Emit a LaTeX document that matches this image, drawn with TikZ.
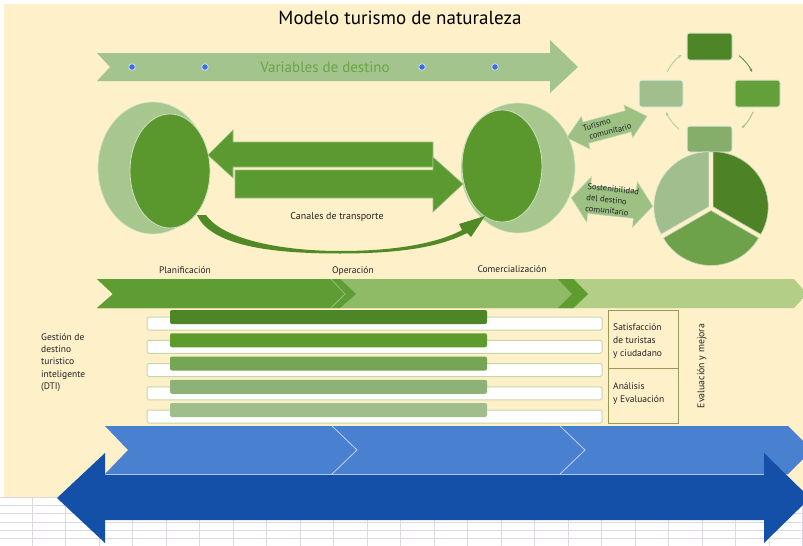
\documentclass[tikz,border=0pt]{standalone}
\usepackage{fontspec}
\setmainfont{PT Sans}
\usetikzlibrary{arrows.meta,shapes.geometric}
\definecolor{cream}{HTML}{FEF0C9}
\definecolor{gridc}{HTML}{DCD8DE}
\definecolor{varg}{HTML}{A3C58D}
\definecolor{vtextc}{HTML}{6AA447}
\definecolor{dotblue}{HTML}{3B6FE0}
\definecolor{discl}{HTML}{A7C78E}
\definecolor{discd}{HTML}{5A982D}
\definecolor{arrg}{HTML}{5B9A30}
\definecolor{curvg}{HTML}{4F8A26}
\definecolor{dblg}{HTML}{9DC183}
\definecolor{cyc1}{HTML}{4E8526}
\definecolor{cyc2}{HTML}{64A03A}
\definecolor{cyc3}{HTML}{84AE6A}
\definecolor{cyc4}{HTML}{A0BF8D}
\definecolor{pie1}{HTML}{4E8227}
\definecolor{pie2}{HTML}{6EA24A}
\definecolor{pie3}{HTML}{A1BE8E}
\definecolor{ph1}{HTML}{5E9C34}
\definecolor{ph2}{HTML}{8FBA66}
\definecolor{ph3}{HTML}{B3CE86}
\definecolor{chev}{HTML}{5E9C2E}
\definecolor{bar1}{HTML}{4E8526}
\definecolor{bar2}{HTML}{5E9B2E}
\definecolor{bar3}{HTML}{76A554}
\definecolor{bar4}{HTML}{8DB278}
\definecolor{bar5}{HTML}{A0BD8C}
\definecolor{barout}{HTML}{C5D6A8}
\definecolor{boxc}{HTML}{9A9A58}
\definecolor{blueA}{HTML}{4A80D0}
\definecolor{blueB}{HTML}{1450A8}
\definecolor{txt}{HTML}{222222}
\tikzset{
  lbl/.style={inner sep=0pt, text=txt, font=\fontsize{9.5}{12.3}\selectfont},
  smalllbl/.style={inner sep=0pt, text=txt, font=\fontsize{8.5}{11}\selectfont, align=left},
  cycbox/.style={rectangle, rounded corners=2.5pt, minimum width=45pt, minimum height=27pt, inner sep=0pt, draw=white!75!#1, line width=1pt, fill=#1},
  cycarrow/.style={draw=#1, line width=0.9pt, -{Stealth[length=3.5pt,width=3pt]}},
}
\begin{document}
\begin{tikzpicture}[x=1pt,y=-1pt]
\useasboundingbox (0,0) rectangle (803,546);
\clip (0,0) rectangle (803,546);
\fill[white] (0,0) rectangle (803,546);
\fill[cream] (4,4) rectangle (803,497);
% spreadsheet grid at bottom
\begin{scope}
\clip (0,497) rectangle (803,546);
\foreach \y in {497,505,513,522,530,538} \draw[gridc, line width=0.8pt] (0,\y) -- (803,\y);
\foreach \k in {0,...,23} \draw[gridc, line width=0.8pt] ({32+33.5*\k},497) -- ({32+33.5*\k},546);
\end{scope}

% title
\node[inner sep=0pt, font=\fontsize{19}{22}\selectfont] (title) at (400,18) {Modelo turismo de naturaleza};

% variables arrow
\fill[varg] (97,53) -- (550,53) -- (550,40) -- (578,67) -- (550,93) -- (550,81) -- (97,81) -- (110,67) -- cycle;
\node[inner sep=0pt, text=vtextc, font=\fontsize{15}{17}\selectfont] (vars) at (325,67) {Variables de destino};
\foreach \x in {132,205,422,495} \fill[dotblue, draw=white!75!dotblue, line width=0.8pt] (\x,67) circle [radius=3.3];

% discs
\node[ellipse, fill=discl, draw=white!50!discl, line width=0.6pt, minimum width=110pt, minimum height=132pt, inner sep=0pt] (lout) at (153,168) {};
\node[ellipse, fill=discd, draw=white!70!discd, line width=0.8pt, minimum width=80pt, minimum height=114pt, inner sep=0pt] (lin) at (170,171) {};
\node[ellipse, fill=discl, draw=white!50!discl, line width=0.6pt, minimum width=114pt, minimum height=130pt, inner sep=0pt] (rout) at (518,168) {};
\node[ellipse, fill=discd, draw=white!70!discd, line width=0.8pt, minimum width=80pt, minimum height=112pt, inner sep=0pt] (rin) at (502,166) {};

% block arrows between discs
\fill[arrg, draw=white!40!arrg, line width=0.6pt] (208,155) -- (233,130) -- (233,142) -- (433,142) -- (433,167) -- (233,167) -- (233,178) -- cycle;
\fill[arrg, draw=white!40!arrg, line width=0.6pt] (463,184) -- (433,157) -- (433,170) -- (235,170) -- (235,198) -- (433,198) -- (433,212) -- cycle;
\node[lbl, font=\fontsize{10}{12}\selectfont] (canales) at (337,217) {Canales de transporte};

% curved arrow under
\fill[curvg] (197,215) -- (206,215) .. controls (225,242) and (290,251) .. (340,251)
  .. controls (400,251) and (440,242) .. (462,230) -- (459,224) -- (485,216) -- (471,237) -- (467,233)
  .. controls (440,247) and (400,253.5) .. (340,253.5) .. controls (280,253.5) and (212,248) .. cycle;

% double arrows right
\begin{scope}[shift={(607,127)}, rotate=15]
\fill[dblg, draw=white!40!dblg, line width=0.5pt] (-41.5,0) -- (-22,-17) -- (-22,-11) -- (22,-11) -- (22,-17) -- (41.5,0) -- (22,17) -- (22,11) -- (-22,11) -- (-22,17) -- cycle;
\node[smalllbl, transform shape, font=\fontsize{8.5}{10}\selectfont] (turismo) at (0,0) {Turismo\\\hspace*{4pt}comunitario};
\end{scope}
\begin{scope}[shift={(612,202)}, rotate=-6]
\fill[dblg, draw=white!40!dblg, line width=0.5pt] (-41,0) -- (-23,-23) -- (-23,-14) -- (23,-14) -- (23,-23) -- (41,0) -- (23,23) -- (23,14) -- (-23,14) -- (-23,23) -- cycle;
\node[smalllbl, transform shape] (sost) at (0,-2) {Sostenibilidad\\del destino\\comunitario};
\end{scope}

% cycle
\node[cycbox=cyc1] (ctop) at (709.5,46.5) {};
\node[cycbox=cyc2] (cright) at (757.5,93.5) {};
\node[cycbox=cyc3, minimum height=26pt] (cbot) at (709.5,139) {};
\node[cycbox=cyc4, minimum width=44pt] (cleft) at (661,93.5) {};
\begin{scope}[shift={(709,93)}, yscale=-1]
\draw[cycarrow=cyc4!80] (153:47) arc[start angle=153, end angle=126, radius=47];
\draw[cycarrow=cyc1!90] (51:48) arc[start angle=51, end angle=26, radius=48];
\draw[cycarrow=cyc3!80] (-23:48) arc[start angle=-23, end angle=-47, radius=48];
\draw[cycarrow=cyc4!80] (-130:47) arc[start angle=-130, end angle=-156, radius=47];
\end{scope}

% pie
\begin{scope}[shift={(711,208)}, yscale=-1]
\fill[pie1, draw=white!60!pie1, line width=0.6pt, shift={(30:2.5)}] (0,0) -- (-30:55) arc[start angle=-30, end angle=90, radius=55] -- cycle;
\fill[pie2, draw=white!60!pie2, line width=0.6pt, shift={(270:2.5)}] (0,0) -- (210:55) arc[start angle=210, end angle=330, radius=55] -- cycle;
\fill[pie3, draw=white!60!pie3, line width=0.6pt, shift={(150:2.5)}] (0,0) -- (90:55) arc[start angle=90, end angle=210, radius=55] -- cycle;
\end{scope}

% phase labels
\node[lbl] (plan) at (185,270) {Planificación};
\node[lbl] (oper) at (353,271) {Operación};
\node[lbl] (comer) at (512,269) {Comercialización};

% phase band
\fill[ph3] (97,279) -- (794,279) -- (807,294) -- (794,308) -- (97,308) -- (113,294) -- cycle;
\fill[ph2] (97,279) -- (574,279) -- (588,294) -- (574,308) -- (97,308) -- (113,294) -- cycle;
\fill[chev] (558,279) -- (573,279) -- (588,294) -- (573,308) -- (558,308) -- (572,294) -- cycle;
\fill[ph1] (97,279) -- (340,279) -- (356,294) -- (340,308) -- (97,308) -- (113,294) -- cycle;
\draw[white!35!ph1, line width=0.8pt] (331,279) -- (345,294) -- (331,308);

% bars
\foreach \i/\c in {0/bar1,1/bar2,2/bar3,3/bar4,4/bar5} {
  \fill[white, draw=barout, line width=1pt, rounded corners=1.5pt] (147,{317+23.25*\i}) rectangle (602,{330+23.25*\i});
  \fill[\c, rounded corners=2pt] (170,{310+23.25*\i}) rectangle (487,{324+23.25*\i});
}

% evaluation box
\draw[boxc, line width=1pt] (608,310) rectangle (678,423);
\draw[boxc, line width=1pt] (608,368) -- (678,368);
\node[lbl, anchor=west, align=left, font=\fontsize{9.5}{13}\selectfont] (sat) at (613,341) {Satisfacción\\de turistas\\y ciudadano};
\node[lbl, anchor=west, align=left, font=\fontsize{9.5}{13}\selectfont] (anal) at (613,393.5) {Análisis\\y Evaluación};
\node[lbl, rotate=90, font=\fontsize{9.8}{12}\selectfont] (evalm) at (702,366) {Evaluación y mejora};
\node[lbl, anchor=west, align=left] (gest) at (41,362.5) {Gestión de\\destino\\turistico\\inteligente\\(DTI)};

% blue band
\fill[blueA] (105,426) -- (788,426) -- (812,450) -- (788,474) -- (105,474) -- (128,450) -- cycle;
\draw[white!65!blueA, line width=0.8pt] (332,426) -- (357,450) -- (332,474);
\draw[white!65!blueA, line width=0.8pt] (560,426) -- (585,450) -- (560,474);
\draw[white!55!blueA, line width=0.7pt] (105,474) -- (788,474);
% dark blue double arrow
\fill[blueB] (57,498) -- (105,453) -- (105,475) -- (764,475) -- (764,453) -- (810,498) -- (764,543) -- (764,520) -- (105,520) -- (105,543) -- cycle;
\end{tikzpicture}
\end{document}
